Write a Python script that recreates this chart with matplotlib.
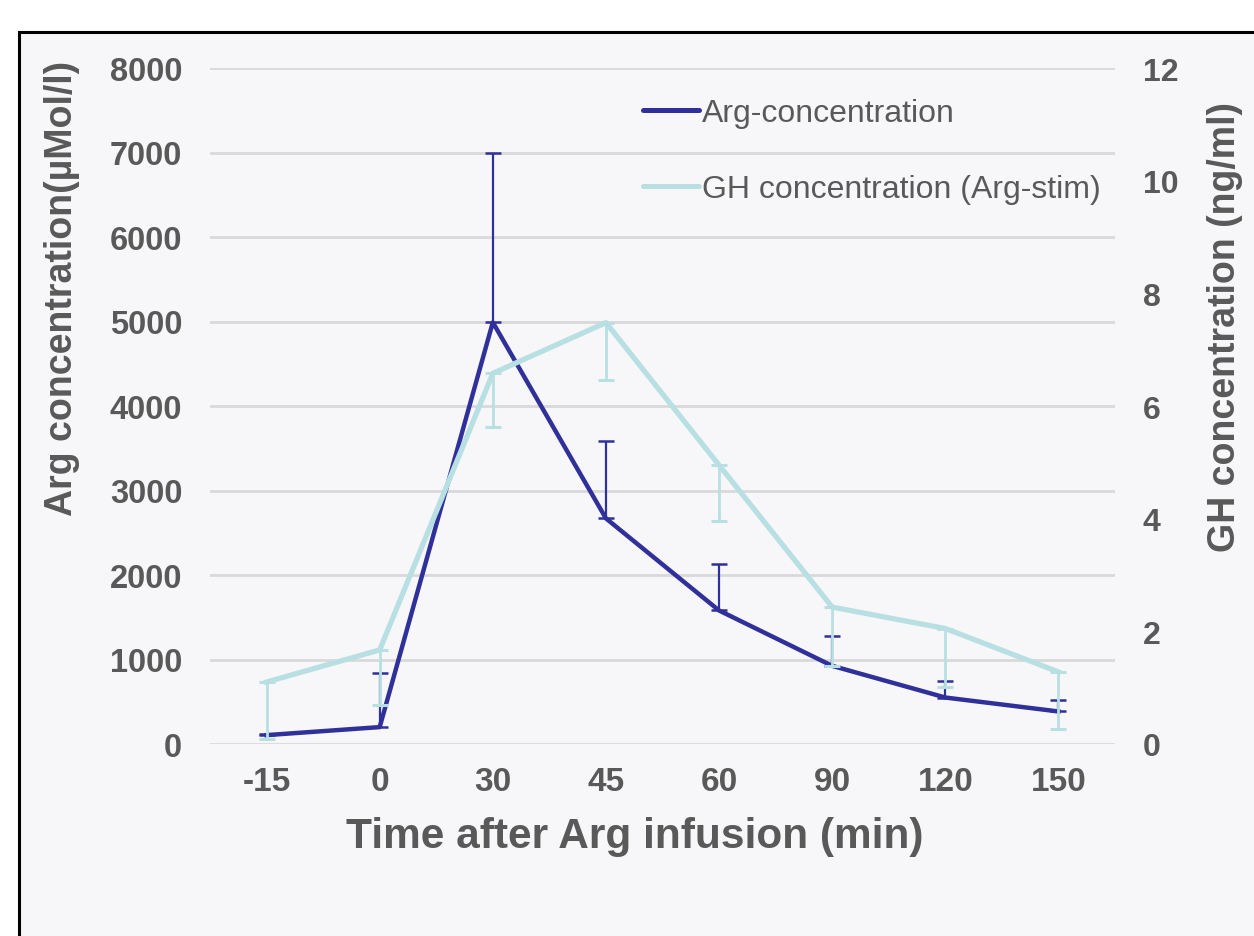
import matplotlib
matplotlib.use("Agg")
import matplotlib.pyplot as plt
from matplotlib.patches import Rectangle
from matplotlib.lines import Line2D

# -------- DATA --------
time_labels = ["-15", "0", "30", "45", "60", "90", "120", "150"]
arg_conc = [105, 200, 4990, 2670, 1580, 925, 550, 385]
arg_err_up = [15, 640, 2010, 910, 550, 355, 195, 140]
gh_conc = [1.10, 1.67, 6.58, 7.48, 4.95, 2.43, 2.05, 1.28]
gh_err_down = [1.02, 0.98, 0.96, 1.01, 0.99, 1.04, 1.03, 1.01]

left_ticks = [0, 1000, 2000, 3000, 4000, 5000, 6000, 7000, 8000]
right_ticks = [0, 2, 4, 6, 8, 10, 12]

# -------- STYLE --------
ARG_COL = "#30309A"
GH_COL = "#B8E0E3"
TXT = "#595959"
BG = "#F7F7F9"
GRID = "#D9D9D9"

plt.rcParams['font.family'] = ['Liberation Sans', 'DejaVu Sans']

fig = plt.figure(figsize=(12.54, 9.37), dpi=100)
fig.patch.set_facecolor("white")

# framed panel (top-left corner visible, rest runs off the image)
fig.patches.append(Rectangle((19 / 1254, -0.05), 1.2, 1 - 33 / 937 + 0.05,
                             transform=fig.transFigure, facecolor=BG,
                             edgecolor="black", lw=2.2, zorder=-10))

ax = fig.add_axes([210 / 1254, 1 - 745 / 937, 905 / 1254, 676 / 937])
ax.set_facecolor("none")
ax2 = ax.twinx()

x = list(range(len(time_labels)))

# Arg series (left axis), upper error only
ax.errorbar(x, arg_conc, yerr=[[0] * len(x), arg_err_up], color=ARG_COL,
            lw=3.2, elinewidth=1.6, capsize=6, capthick=1.8, zorder=3)

# GH series (right axis), lower error only
ax2.errorbar(x, gh_conc, yerr=[gh_err_down, [0] * len(x)], color=GH_COL,
             lw=3.8, elinewidth=2.0, capsize=6, capthick=2.2, zorder=3)

ax.set_xlim(-0.5, len(x) - 0.5)
ax.set_ylim(0, 8000)
ax2.set_ylim(0, 12)
ax.set_yticks(left_ticks)
ax2.set_yticks(right_ticks)
ax.set_xticks(x)
ax.set_xticklabels(time_labels)

ax.grid(axis="y", color=GRID, lw=2)
ax.set_axisbelow(True)

for a in (ax, ax2):
    for s in a.spines.values():
        s.set_visible(False)
    a.tick_params(length=0)

ax.tick_params(axis="y", labelsize=23.5, labelcolor=TXT, pad=20)
ax2.tick_params(axis="y", labelsize=23, labelcolor=TXT, pad=20)
ax.tick_params(axis="x", labelsize=24, labelcolor=TXT, pad=16)
for lab in ax.get_yticklabels() + ax2.get_yticklabels() + ax.get_xticklabels():
    lab.set_fontweight("bold")

ax.set_xlabel("Time after Arg infusion (min)", fontsize=30.5, fontweight="bold",
              color=TXT)
ax.xaxis.set_label_coords(0.469, -0.106)
ax.set_ylabel("Arg concentration(µMol/l)", fontsize=27, fontweight="bold",
              color=TXT, va="center")
ax.yaxis.set_label_coords(-0.1635, 0.676)
ax2.set_ylabel("GH concentration (ng/ml)", fontsize=27, fontweight="bold",
               color=TXT, rotation=90, va="center")
ax2.yaxis.set_label_coords(1.122, 0.618)

handles = [Line2D([], [], color=ARG_COL, lw=3.6, solid_capstyle="round"),
           Line2D([], [], color=GH_COL, lw=3.6, solid_capstyle="round")]
leg = ax2.legend(handles, ["Arg-concentration", "GH concentration (Arg-stim)"],
                 loc="upper left", bbox_to_anchor=(643 / 1254, 1 - 99 / 937),
                 bbox_transform=fig.transFigure, frameon=False, fontsize=23,
                 handlelength=1.75, handletextpad=0.1, labelspacing=1.43,
                 borderpad=0, borderaxespad=0)
for t in leg.get_texts():
    t.set_color(TXT)

fig.savefig("out.png", dpi=100, facecolor=fig.get_facecolor())
